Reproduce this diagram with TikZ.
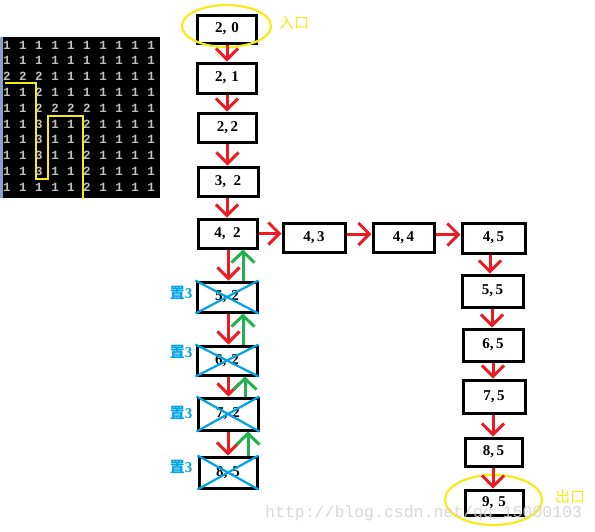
\documentclass[tikz,border=0pt]{standalone}
\usepackage{fontspec}
\setmainfont{Liberation Serif}
\newfontfamily\cjk{Noto Sans CJK SC}
\newfontfamily\mono{Liberation Mono}
\usetikzlibrary{arrows.meta}
\definecolor{pred}{HTML}{ED1C24}
\definecolor{pgreen}{HTML}{22B14C}
\definecolor{pblue}{HTML}{00A2E8}
\definecolor{pyellow}{HTML}{F5EC1A}
\definecolor{mgray}{HTML}{C0C0C0}
\definecolor{wmgray}{HTML}{D2D2D2}
\begin{document}
\begin{tikzpicture}[x=1pt,y=-1pt,
  box/.style={draw=black, line width=3pt, fill=white, inner sep=0pt,
    font=\fontsize{15}{15}\selectfont\bfseries},
  rarr/.style={pred, line width=3pt, -{Straight Barb[length=11pt,width=22pt]}},
  garr/.style={pgreen, line width=3pt, -{Straight Barb[length=11pt,width=23pt]}},
  xcross/.style={pblue, line width=2.2pt},
  mnum/.style={mgray, font=\mono\fontsize{12.5}{12.5}\selectfont\bfseries, inner sep=0pt},
  zhi/.style={pblue, font=\fontsize{15}{15}\selectfont\bfseries, inner sep=0pt},
  ylab/.style={pyellow, font=\cjk\fontsize{15}{15}\selectfont, inner sep=0pt},
  ring/.style={pyellow, line width=2.2pt}]
\useasboundingbox (0,0) rectangle (595,531);
\fill[white] (0,0) rectangle (595,531);
% console screenshot
\fill[black] (0,37) rectangle (160,198);
\draw[line width=3pt, color={rgb,255:red,140;green,160;blue,200}] (1.5,37) -- (1.5,198);
\foreach \row [count=\r from 0] in {
  {1,1,1,1,1,1,1,1,1,1},
  {1,1,1,1,1,1,1,1,1,1},
  {2,2,2,1,1,1,1,1,1,1},
  {1,1,2,1,1,1,1,1,1,1},
  {1,1,2,2,2,2,1,1,1,1},
  {1,1,3,1,1,2,1,1,1,1},
  {1,1,3,1,1,2,1,1,1,1},
  {1,1,3,1,1,2,1,1,1,1},
  {1,1,3,1,1,2,1,1,1,1},
  {1,1,1,1,1,2,1,1,1,1}} {
  \foreach \v [count=\c from 0] in \row {
    \node[mnum] (m\r-\c) at (7+16*\c, 45+15.8*\r) {\v};
  }
}
\draw[pyellow, line width=1.5pt] (5,83) -- (36,83) -- (36,179) -- (48,179) -- (48,116) -- (83,116) -- (83,198);
% main path boxes
\node[box, minimum width=59, minimum height=28] (n20) at (227,29) {2,\,\,0};
\node[box, minimum width=59, minimum height=30] (n21) at (227,78) {2,\,\,1};
\node[box, minimum width=58, minimum height=29] (n22) at (227.5,127.5) {2,\,2};
\node[box, minimum width=60, minimum height=29] (n32) at (228,181.5) {3,\,\,\,2};
\node[box, minimum width=59, minimum height=29] (n42) at (227.5,233.5) {4,\,\,\,2};
\node[box, minimum width=62, minimum height=29] (n43) at (314,237.5) {4,\,3};
\node[box, minimum width=61, minimum height=29] (n44) at (403.5,237.5) {4,\,4};
\node[box, minimum width=63, minimum height=30] (n45) at (493.5,238) {4,\,5};
\node[box, minimum width=61, minimum height=32] (n55) at (492.5,291) {5,\,5};
\node[box, minimum width=60, minimum height=32] (n65) at (493,345) {6,\,5};
\node[box, minimum width=62, minimum height=33] (n75) at (494,396.5) {7,\,5};
\node[box, minimum width=57, minimum height=28] (n85) at (493.5,452) {8,\,5};
\node[box, minimum width=58, minimum height=25] (n95) at (494,502.5) {9,\,\,5};
% dead-end boxes
\node[box, minimum width=60, minimum height=30] (x52) at (227,297) {5,\,\,2};
\node[box, minimum width=60, minimum height=29] (x62) at (227,360.5) {6,\,\,2};
\node[box, minimum width=60, minimum height=32] (x72) at (228,414) {7,\,\,2};
\node[box, minimum width=58, minimum height=31] (x85) at (228,472.5) {8,\,\,5};
\foreach \b in {x52,x62,x72,x85} {
  \draw[xcross] (\b.north west) -- (\b.south east);
  \draw[xcross] (\b.south west) -- (\b.north east);
}
% labels
\node[zhi] (z52) at (181,293) {{\cjk 置}3};
\node[zhi] (z62) at (181,352) {{\cjk 置}3};
\node[zhi] (z72) at (181,413) {{\cjk 置}3};
\node[zhi] (z85) at (181,467) {{\cjk 置}3};
\draw[ring] (226.5,26) ellipse [x radius=44.5, y radius=21];
\draw[ring] (493.5,500) ellipse [x radius=48.5, y radius=25];
\node[ylab] (in) at (294,23) {入口};
\node[ylab] (out) at (570,497) {出口};
% red arrows
\draw[rarr] (n20.south) -- (n21.north);
\draw[rarr] (n21.south) -- (n21.south |- n22.north);
\draw[rarr] (n22.south) -- (n22.south |- n32.north);
\draw[rarr] ([xshift=-1pt]n32.south) -- ([xshift=-0.5pt]n42.north);
\draw[rarr] ([xshift=1pt]n42.south) -- ([xshift=1.5pt]x52.north);
\draw[rarr] ([xshift=1.5pt]x52.south) -- ([xshift=1.5pt]x62.north);
\draw[rarr] ([xshift=1.5pt]x62.south) -- ([xshift=0.5pt]x72.north);
\draw[rarr] ([xshift=0pt]x72.south) -- ([xshift=0pt]x85.north);
\draw[rarr] (n42.east) -- (n42.east -| n43.west);
\draw[rarr] ([yshift=3.5pt]n43.east) -- ([yshift=3.5pt]n43.east -| n44.west);
\draw[rarr] ([yshift=3pt]n44.east) -- ([yshift=3pt]n44.east -| n45.west);
\draw[rarr] ([xshift=-3.5pt]n45.south) -- ([xshift=-2.5pt]n55.north);
\draw[rarr] ([xshift=-0.5pt]n55.south) -- ([xshift=-1pt]n65.north);
\draw[rarr] (n65.south) -- ([xshift=-1pt]n75.north);
\draw[rarr] ([xshift=-1pt]n75.south) -- ([xshift=-0.5pt]n85.north);
\draw[rarr] ([xshift=-0.5pt]n85.south) -- ([xshift=-1pt]n95.north);
% green back-tracking arrows
\draw[garr] ([xshift=16pt]x52.north) -- ([xshift=15.5pt]n42.south);
\draw[garr] ([xshift=16pt]x62.north) -- ([xshift=16pt]x52.south);
\draw[garr] ([xshift=17pt]x72.north) -- ([xshift=18pt]x62.south);
\draw[garr] ([xshift=20pt]x85.north) -- ([xshift=20pt]x72.south);
% watermark
\node[wmgray, opacity=0.85, font=\mono\fontsize{16.5}{16.5}\selectfont, anchor=base west, inner sep=0pt] (wm) at (265,517) {http://blog.csdn.net/qq\_15000103};
\end{tikzpicture}
\end{document}
